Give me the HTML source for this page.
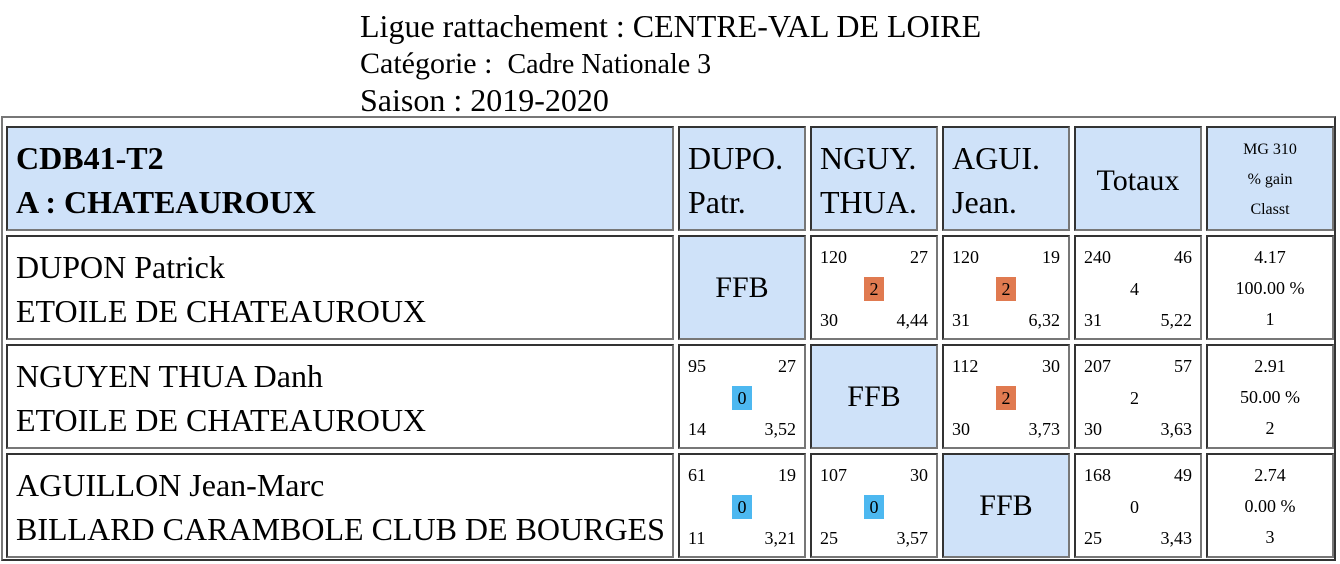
<!DOCTYPE html>
<html><head><meta charset="utf-8"><style>
body{margin:0;width:1340px;height:564px;background:#fff;font-family:"Liberation Serif",serif;color:#000;position:relative;overflow:hidden}
.a{position:absolute;white-space:nowrap}
.outer{position:absolute;left:1px;top:116px;width:1335px;height:445px;border:2px solid;border-color:#777 #333 #333 #777;box-sizing:border-box}
.c{position:absolute;box-sizing:border-box;border:2px solid;border-color:#333 #777 #777 #333}
.h{background:#cfe2f9}
.big{font-size:32px;line-height:44px}
.n{position:absolute;font-size:18px;line-height:20px}
.badge{position:absolute;width:20px;height:24px;font-size:18px;line-height:24px;text-align:center}
.or{background:#e07a50}.bl{background:#4db8f0}
.ffb{font-size:30px;text-align:center;line-height:102px;width:100%}
.mg{position:absolute;left:0;width:100%;text-align:center;font-size:18px}
</style></head><body>
<div class="a" style="left:360px;top:7px;font-size:32px;line-height:38px">Ligue rattachement : CENTRE-VAL DE LOIRE</div>
<div class="a" style="left:360px;top:46px;font-size:30px;line-height:36px">Catégorie : &nbsp;<span style="font-size:28px">Cadre Nationale 3</span></div>
<div class="a" style="left:360px;top:81px;font-size:32px;line-height:38px">Saison : 2019-2020</div>
<div class="outer"></div>

<!-- header -->
<div class="c h" style="left:6px;top:126px;width:668px;height:105px"><div class="a big" style="left:8px;top:8px;font-weight:bold">CDB41-T2<br>A : CHATEAUROUX</div></div>
<div class="c h" style="left:678px;top:126px;width:128px;height:105px"><div class="a big" style="left:8px;top:8px">DUPO.<br>Patr.</div></div>
<div class="c h" style="left:810px;top:126px;width:128px;height:105px"><div class="a big" style="left:8px;top:8px">NGUY.<br>THUA.</div></div>
<div class="c h" style="left:942px;top:126px;width:128px;height:105px"><div class="a big" style="left:8px;top:8px">AGUI.<br>Jean.</div></div>
<div class="c h" style="left:1074px;top:126px;width:128px;height:105px"><div class="ffb" style="font-size:30px;line-height:106px">Totaux</div></div>
<div class="c h" style="left:1206px;top:126px;width:128px;height:105px"><div class="mg" style="top:7px;line-height:30px;font-size:16px">MG 310<br>% gain<br>Classt</div></div>

<!-- row 1 -->
<div class="c" style="left:6px;top:235px;width:668px;height:105px"><div class="a big" style="left:8px;top:8px">DUPON Patrick<br>ETOILE DE CHATEAUROUX</div></div>
<div class="c h" style="left:678px;top:235px;width:128px;height:105px"><div class="ffb">FFB</div></div>
<div class="c" style="left:810px;top:235px;width:128px;height:105px"><div class="n" style="left:8px;top:10px">120</div><div class="n" style="right:8px;top:10px">27</div><div class="badge or" style="left:52px;top:40px">2</div><div class="n" style="left:8px;top:73px">30</div><div class="n" style="right:8px;top:73px">4,44</div></div>
<div class="c" style="left:942px;top:235px;width:128px;height:105px"><div class="n" style="left:8px;top:10px">120</div><div class="n" style="right:8px;top:10px">19</div><div class="badge or" style="left:52px;top:40px">2</div><div class="n" style="left:8px;top:73px">31</div><div class="n" style="right:8px;top:73px">6,32</div></div>
<div class="c" style="left:1074px;top:235px;width:128px;height:105px"><div class="n" style="left:8px;top:10px">240</div><div class="n" style="right:8px;top:10px">46</div><div class="n" style="left:54px;top:42px">4</div><div class="n" style="left:8px;top:73px">31</div><div class="n" style="right:8px;top:73px">5,22</div></div>
<div class="c" style="left:1206px;top:235px;width:128px;height:105px"><div class="mg" style="top:5px;line-height:31px">4.17<br>100.00 %<br>1</div></div>

<!-- row 2 -->
<div class="c" style="left:6px;top:344px;width:668px;height:105px"><div class="a big" style="left:8px;top:8px">NGUYEN THUA Danh<br>ETOILE DE CHATEAUROUX</div></div>
<div class="c" style="left:678px;top:344px;width:128px;height:105px"><div class="n" style="left:8px;top:10px">95</div><div class="n" style="right:8px;top:10px">27</div><div class="badge bl" style="left:52px;top:40px">0</div><div class="n" style="left:8px;top:73px">14</div><div class="n" style="right:8px;top:73px">3,52</div></div>
<div class="c h" style="left:810px;top:344px;width:128px;height:105px"><div class="ffb">FFB</div></div>
<div class="c" style="left:942px;top:344px;width:128px;height:105px"><div class="n" style="left:8px;top:10px">112</div><div class="n" style="right:8px;top:10px">30</div><div class="badge or" style="left:52px;top:40px">2</div><div class="n" style="left:8px;top:73px">30</div><div class="n" style="right:8px;top:73px">3,73</div></div>
<div class="c" style="left:1074px;top:344px;width:128px;height:105px"><div class="n" style="left:8px;top:10px">207</div><div class="n" style="right:8px;top:10px">57</div><div class="n" style="left:54px;top:42px">2</div><div class="n" style="left:8px;top:73px">30</div><div class="n" style="right:8px;top:73px">3,63</div></div>
<div class="c" style="left:1206px;top:344px;width:128px;height:105px"><div class="mg" style="top:5px;line-height:31px">2.91<br>50.00 %<br>2</div></div>

<!-- row 3 -->
<div class="c" style="left:6px;top:453px;width:668px;height:105px"><div class="a big" style="left:8px;top:8px">AGUILLON Jean-Marc<br>BILLARD CARAMBOLE CLUB DE BOURGES</div></div>
<div class="c" style="left:678px;top:453px;width:128px;height:105px"><div class="n" style="left:8px;top:10px">61</div><div class="n" style="right:8px;top:10px">19</div><div class="badge bl" style="left:52px;top:40px">0</div><div class="n" style="left:8px;top:73px">11</div><div class="n" style="right:8px;top:73px">3,21</div></div>
<div class="c" style="left:810px;top:453px;width:128px;height:105px"><div class="n" style="left:8px;top:10px">107</div><div class="n" style="right:8px;top:10px">30</div><div class="badge bl" style="left:52px;top:40px">0</div><div class="n" style="left:8px;top:73px">25</div><div class="n" style="right:8px;top:73px">3,57</div></div>
<div class="c h" style="left:942px;top:453px;width:128px;height:105px"><div class="ffb">FFB</div></div>
<div class="c" style="left:1074px;top:453px;width:128px;height:105px"><div class="n" style="left:8px;top:10px">168</div><div class="n" style="right:8px;top:10px">49</div><div class="n" style="left:54px;top:42px">0</div><div class="n" style="left:8px;top:73px">25</div><div class="n" style="right:8px;top:73px">3,43</div></div>
<div class="c" style="left:1206px;top:453px;width:128px;height:105px"><div class="mg" style="top:5px;line-height:31px">2.74<br>0.00 %<br>3</div></div>
</body></html>
